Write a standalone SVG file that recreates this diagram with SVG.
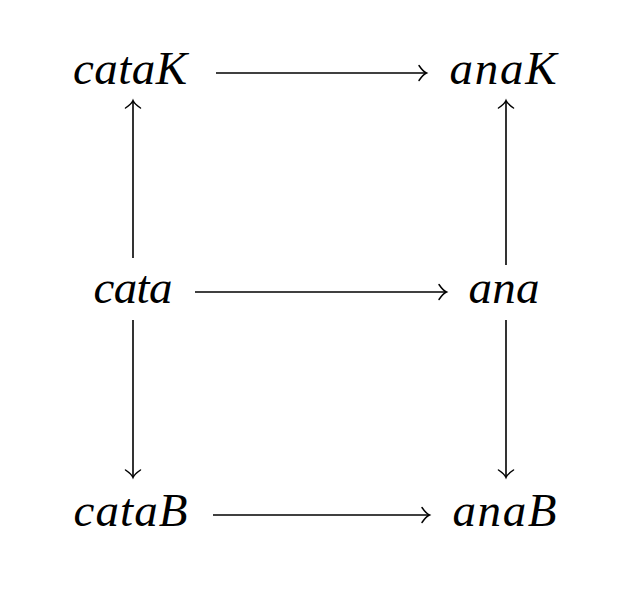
<svg xmlns="http://www.w3.org/2000/svg" width="628" height="594" viewBox="0 0 628 594">
<style>
text{font-family:"Liberation Serif","Times New Roman",serif;font-style:italic;font-size:47px;fill:#000;text-anchor:middle}
.c line{stroke:#000;stroke-width:1.6;fill:none;marker-end:url(#to)}
</style>
<defs>
<marker id="to" markerUnits="userSpaceOnUse" markerWidth="20" markerHeight="20" refX="0" refY="0" viewBox="-12 -10 14 20" orient="auto" overflow="visible">
<path d="M-7,-7.5 Q-3,-1.5 0.5,0 Q-3,1.5 -7,7.5" fill="none" stroke="#000" stroke-width="1.5" stroke-linecap="round"/>
</marker>
</defs>
<rect width="628" height="594" fill="#fff"/>
<g id="cataK"><text x="130" y="84" textLength="114" lengthAdjust="spacing">cataK</text></g>
<g id="anaK"><text x="503" y="84" textLength="107" lengthAdjust="spacing">anaK</text></g>
<g id="cata"><text x="133" y="303" textLength="79" lengthAdjust="spacing">cata</text></g>
<g id="ana"><text x="504" y="303" textLength="71" lengthAdjust="spacing">ana</text></g>
<g id="cataB"><text x="130.5" y="526" textLength="114" lengthAdjust="spacing">cataB</text></g>
<g id="anaB"><text x="504.5" y="526" textLength="104" lengthAdjust="spacing">anaB</text></g>
<g class="c" id="connectors">
<line x1="216" y1="73" x2="426" y2="73"/>
<line x1="195" y1="292" x2="446" y2="292"/>
<line x1="213" y1="515" x2="429" y2="515"/>
<line x1="133" y1="258" x2="133" y2="101"/>
<line x1="506" y1="265" x2="506" y2="101"/>
<line x1="133" y1="320" x2="133" y2="477"/>
<line x1="506" y1="320" x2="506" y2="477"/>
</g>
</svg>
